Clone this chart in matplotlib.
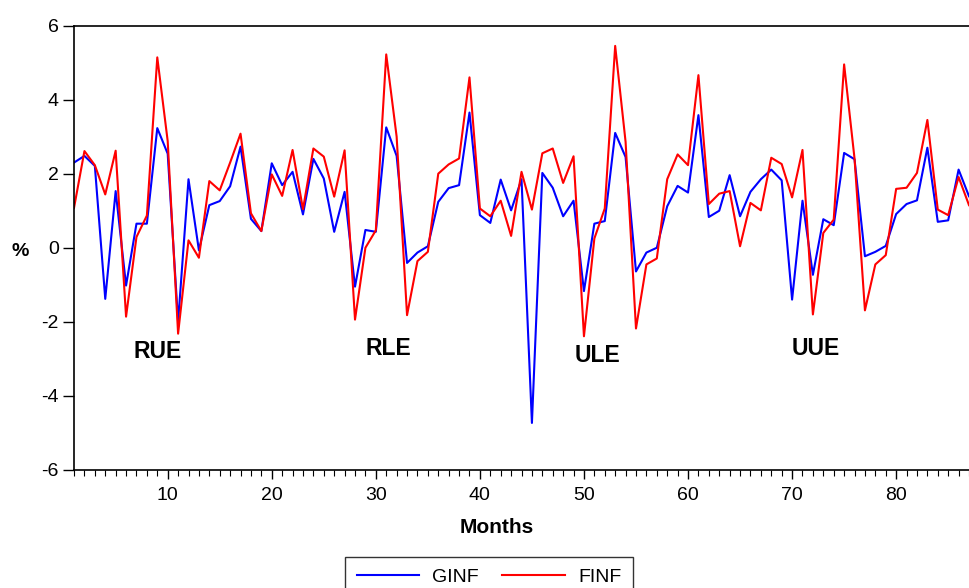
import matplotlib
matplotlib.use('Agg')
from matplotlib import pyplot as plt
from matplotlib.ticker import MultipleLocator

plt.rcParams['font.family'] = ['Liberation Sans', 'DejaVu Sans']
plt.rcParams['axes.unicode_minus'] = False

months = list(range(1, 88))

ginf = [2.30, 2.48, 2.21, -1.38, 1.53, -1.02, 0.65, 0.65, 3.23, 2.54,
        -2.00, 1.85, -0.07, 1.15, 1.26, 1.66, 2.73, 0.78, 0.45, 2.28,
        1.69, 2.05, 0.90, 2.40, 1.87, 0.43, 1.51, -1.05, 0.48, 0.43,
        3.25, 2.48, -0.41, -0.13, 0.04, 1.24, 1.61, 1.69, 3.65, 0.88,
        0.67, 1.84, 1.01, 1.85, -4.73, 2.02, 1.62, 0.85, 1.27, -1.17,
        0.65, 0.72, 3.10, 2.45, -0.64, -0.13, 0.00, 1.12, 1.67, 1.49,
        3.58, 0.83, 1.00, 1.96, 0.85, 1.51, 1.85, 2.11, 1.82, -1.40,
        1.27, -0.73, 0.77, 0.61, 2.56, 2.39, -0.23, -0.11, 0.05, 0.91,
        1.18, 1.28, 2.70, 0.70, 0.74, 2.11, 1.39]

finf = [1.08, 2.61, 2.23, 1.44, 2.62, -1.86, 0.29, 0.87, 5.14, 2.88,
        -2.32, 0.20, -0.27, 1.80, 1.55, 2.30, 3.08, 0.93, 0.45, 1.98,
        1.40, 2.64, 1.04, 2.68, 2.46, 1.38, 2.63, -1.94, 0.00, 0.47,
        5.22, 3.00, -1.82, -0.36, -0.11, 2.00, 2.25, 2.41, 4.60, 1.06,
        0.85, 1.27, 0.32, 2.05, 1.03, 2.55, 2.68, 1.75, 2.47, -2.39,
        0.25, 1.06, 5.45, 2.86, -2.18, -0.45, -0.29, 1.85, 2.52, 2.23,
        4.66, 1.18, 1.46, 1.53, 0.04, 1.21, 1.01, 2.43, 2.26, 1.36,
        2.64, -1.80, 0.40, 0.76, 4.95, 2.41, -1.69, -0.45, -0.20, 1.59,
        1.62, 2.02, 3.45, 1.03, 0.88, 1.91, 1.15]

# regime labels and where they sit (month, %)
regimes = ['RUE', 'RLE', 'ULE', 'UUE']
regime_x = [9.0, 31.2, 51.3, 72.3]
regime_y = [-2.8, -2.72, -2.9, -2.72]

fig = plt.figure(figsize=(9.69, 5.88), dpi=100)
ax = fig.add_axes([0.0764, 0.2007, 0.9236, 0.7559])

ax.plot(months, ginf, c='#0000ff', lw=1.5, label='GINF')
ax.plot(months, finf, c='#ff0000', lw=1.5, label='FINF')

for name, x, y in zip(regimes, regime_x, regime_y):
    ax.text(x, y, name, fontsize=16.5, fontweight='bold', ha='center', va='center')

ax.set_xlim(1, 87)
ax.set_ylim(-6, 6)
ax.set_yticks([-6, -4, -2, 0, 2, 4, 6])
ax.xaxis.set_major_locator(MultipleLocator(10))
ax.xaxis.set_minor_locator(MultipleLocator(1))
ax.tick_params(axis='y', which='major', labelsize=14, length=8, width=1, pad=3)
ax.tick_params(axis='x', which='major', labelsize=14, length=6.5, width=1, pad=6)
ax.tick_params(axis='x', which='minor', length=4, width=0.8)
ax.spines['right'].set_visible(False)
for s in ['left', 'top', 'bottom']:
    ax.spines[s].set_linewidth(1.2)

ax.set_xlabel('Months', fontsize=15, fontweight='bold')
ax.xaxis.set_label_coords(0.4726, -0.108)
fig.text(0.021, 1 - 252 / 588, '%', fontsize=14, fontweight='bold', ha='center', va='center')

leg = fig.legend(loc='upper center', bbox_to_anchor=(0.5046, 1 - 557 / 588), ncol=2,
                 fontsize=14, frameon=True, fancybox=False, edgecolor='black',
                 handlelength=3.2, handletextpad=0.7, columnspacing=1.2,
                 borderpad=0.6, borderaxespad=0)
leg.get_frame().set_linewidth(1.0)

plt.savefig('out.png', dpi=100)
